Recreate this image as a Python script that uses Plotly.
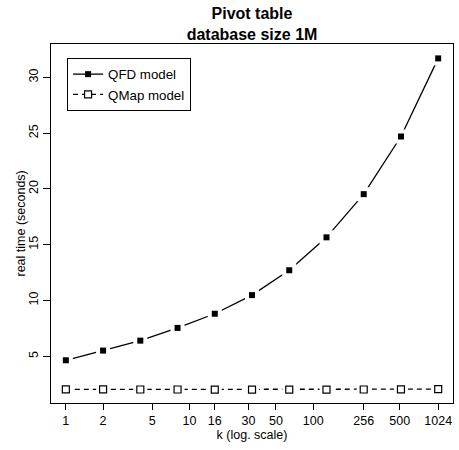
import plotly.graph_objects as go

k_values = [1, 2, 4, 8, 16, 32, 64, 128, 256, 512, 1024]
qfd_times = [4.64, 5.51, 6.40, 7.54, 8.81, 10.48, 12.71, 15.66, 19.53, 24.7, 31.7]
qmap_times = [2.03, 2.03, 2.02, 2.02, 2.01, 2.0, 2.0, 2.01, 2.02, 2.03, 2.05]
x_tick_vals = [1, 2, 5, 10, 16, 30, 50, 100, 256, 500, 1024]
y_tick_vals = [5, 10, 15, 20, 25, 30]

FONT = "Liberation Sans, Arial, Helvetica, sans-serif"

fig = go.Figure()

# legend-bearing traces (lines + markers)
fig.add_trace(go.Scatter(
    x=k_values, y=qfd_times, mode="lines+markers", name="QFD model",
    line=dict(color="black", width=1.3),
    marker=dict(symbol="square", size=6, color="black"),
))
fig.add_trace(go.Scatter(
    x=k_values, y=qmap_times, mode="lines+markers", name="QMap model",
    line=dict(color="black", width=1.3, dash="5px,4px"),
    marker=dict(symbol="square", size=7, color="white", line=dict(color="black", width=1.2)),
))
# white masks to create gaps around points (R type="b")
for ys in (qfd_times, qmap_times):
    fig.add_trace(go.Scatter(
        x=k_values, y=ys, mode="markers", showlegend=False, hoverinfo="skip",
        marker=dict(symbol="square", size=14, color="white", line=dict(width=0)),
    ))
fig.add_trace(go.Scatter(
    x=k_values, y=qfd_times, mode="markers", showlegend=False,
    marker=dict(symbol="square", size=6, color="black", line=dict(width=0)),
))
fig.add_trace(go.Scatter(
    x=k_values, y=qmap_times, mode="markers", showlegend=False,
    marker=dict(symbol="square", size=7, color="white", line=dict(color="black", width=1.2)),
))

fig.update_layout(
    width=459, height=450,
    margin=dict(l=51, r=6, t=44, b=47),
    paper_bgcolor="white", plot_bgcolor="white",
    font=dict(family=FONT, size=12.5, color="black"),
    title=dict(
        text="<b>Pivot table<br>database size 1M</b>",
        x=(51 + 453) / 2 / 459, xanchor="center",
        y=1 - 19 / 450, yanchor="top",
        font=dict(size=16, family=FONT, color="black"),
    ),
    showlegend=True,
    legend=dict(
        x=0.04, y=0.961, xanchor="left", yanchor="top",
        bordercolor="black", borderwidth=1, bgcolor="white",
        font=dict(size=13.3, family=FONT),
        tracegroupgap=0, itemwidth=30,
    ),
    xaxis=dict(
        type="log", range=[-0.12, 3.13],
        tickvals=x_tick_vals, ticktext=[str(v) for v in x_tick_vals],
        ticks="outside", ticklen=6, tickcolor="black", tickwidth=1,
        showline=True, linecolor="black", linewidth=1.3, mirror=True,
        showgrid=False, zeroline=False,
        title=dict(text="k (log. scale)", standoff=3, font=dict(size=12.5)),
        tickfont=dict(size=12.5),
    ),
    yaxis=dict(
        range=[0.81, 32.99],
        tickvals=y_tick_vals,
        ticks="outside", ticklen=7, tickcolor="black", tickwidth=1,
        tickangle=-90,
        showline=True, linecolor="black", linewidth=1.3, mirror=True,
        showgrid=False, zeroline=False,
        tickfont=dict(size=12.5),
    ),
    annotations=[dict(
        text="real time (seconds)", textangle=-90,
        xref="paper", yref="paper",
        x=(20 - 51) / 402, y=0.5, xanchor="center", yanchor="middle",
        showarrow=False, font=dict(size=12.5, family=FONT, color="black"),
    )],
)

fig.write_html("out.html", config={"displayModeBar": False},
               post_script="document.body.style.margin='0';")
